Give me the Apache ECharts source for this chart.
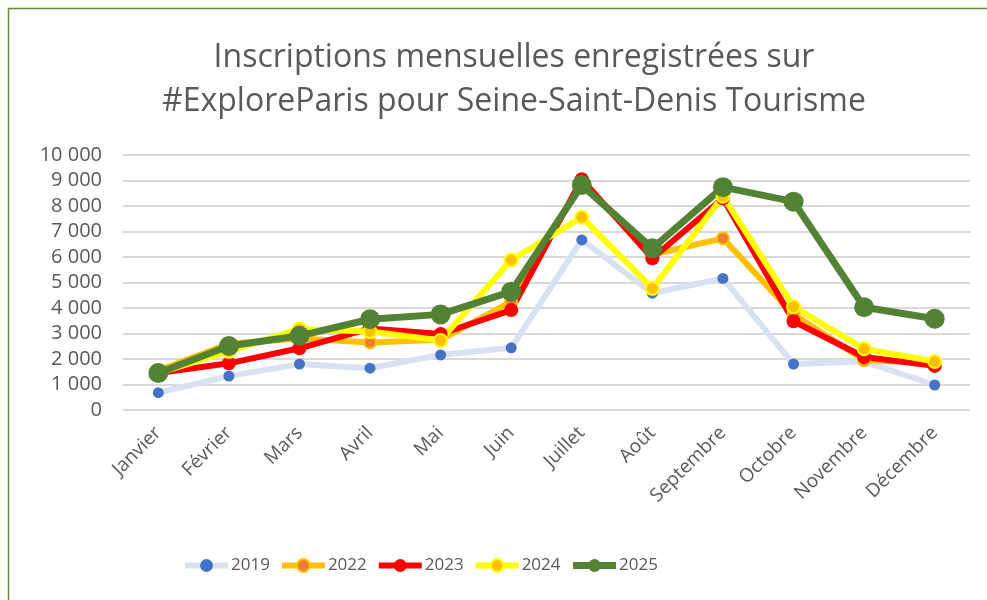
<!DOCTYPE html>
<html><head><meta charset="utf-8">
<script src="https://cdn.jsdelivr.net/npm/echarts@6/dist/echarts.min.js"></script>
<style>html,body{margin:0;padding:0;background:#fff}#c{width:987px;height:600px}</style>
</head><body><div id="c"></div>
<script>
const months = ['Janvier','Février','Mars','Avril','Mai','Juin','Juillet','Août','Septembre','Octobre','Novembre','Décembre'];
const v2019 = [680, 1330, 1800, 1640, 2160, 2440, 6670, 4580, 5160, 1800, 1900, 980];
const v2022 = [1550, 2600, 2800, 2650, 2750, 4250, 8900, 6100, 6730, 3750, 1950, 1850];
const v2023 = [1450, 1830, 2420, 3200, 2980, 3920, 9050, 5950, 8300, 3480, 2080, 1730];
const v2024 = [1450, 2300, 3180, 3080, 2730, 5880, 7560, 4770, 8380, 4050, 2400, 1900];
const v2025 = [1450, 2510, 2910, 3560, 3750, 4640, 8820, 6340, 8740, 8170, 4030, 3580];
const yTicks = [0, 1000, 2000, 3000, 4000, 5000, 6000, 7000, 8000, 9000, 10000];

const FONT = 'Open Sans';
const chart = echarts.init(document.getElementById('c'));
function fmt(v){ return String(v).replace(/\B(?=(\d{3})+(?!\d))/g, ' '); }
function s(name, data, lineColor, markFill, markBorder, lw, sz){
  return {name, type:'line', data, symbol:'circle', symbolSize:sz,
    lineStyle:{color:lineColor, width:lw},
    itemStyle:{color:markFill, borderColor:markBorder, borderWidth:markBorder?2:0},
    emphasis:{disabled:true}, animation:false};
}
chart.setOption({
  animation:false,
  graphic:[{type:'rect', shape:{x:8.5, y:8.5, width:990, height:620}, style:{fill:'none', stroke:'#5E8E3E', lineWidth:1.5}, z:-1}],
  title:{text:'Inscriptions mensuelles enregistrées sur\n#ExploreParis pour Seine-Saint-Denis Tourisme',
    left:509, textAlign:'center', top:31,
    textStyle:{fontFamily:FONT, fontWeight:'normal', fontSize:32, color:'#595959', lineHeight:44}},
  grid:{left:123, right:17, top:155, bottom:190, containLabel:false},
  legend:{top:552, left:177, itemWidth:43, itemHeight:16, itemGap:9,
    lineStyle:{width:'inherit'},
    textStyle:{fontFamily:FONT, fontSize:17, color:'#595959', padding:[0,0,0,-2]},
    data:['2019','2022','2023','2024','2025']},
  xAxis:{type:'category', data:months, boundaryGap:true,
    axisLine:{show:false}, axisTick:{show:false},
    axisLabel:{rotate:45, interval:0, fontFamily:FONT, fontSize:19, color:'#595959', margin:20}},
  yAxis:{type:'value', min:0, max:10000, interval:1000,
    axisLabel:{formatter:fmt, fontFamily:FONT, fontSize:20, color:'#595959', margin:21},
    splitLine:{lineStyle:{color:'#D9D9D9', width:2}}},
  series:[
    s('2019', v2019, '#D9E2F3', '#4472C4', null, 6, 11),
    s('2022', v2022, '#FFC000', '#ED7D31', '#FFC000', 6, 12),
    s('2023', v2023, '#FF0000', '#FF0000', null, 6, 14),
    s('2024', v2024, '#FFFF00', '#FFC000', '#FFFF00', 6, 13),
    s('2025', v2025, '#548235', '#548235', null, 7, 20)
  ]
});
</script></body></html>
